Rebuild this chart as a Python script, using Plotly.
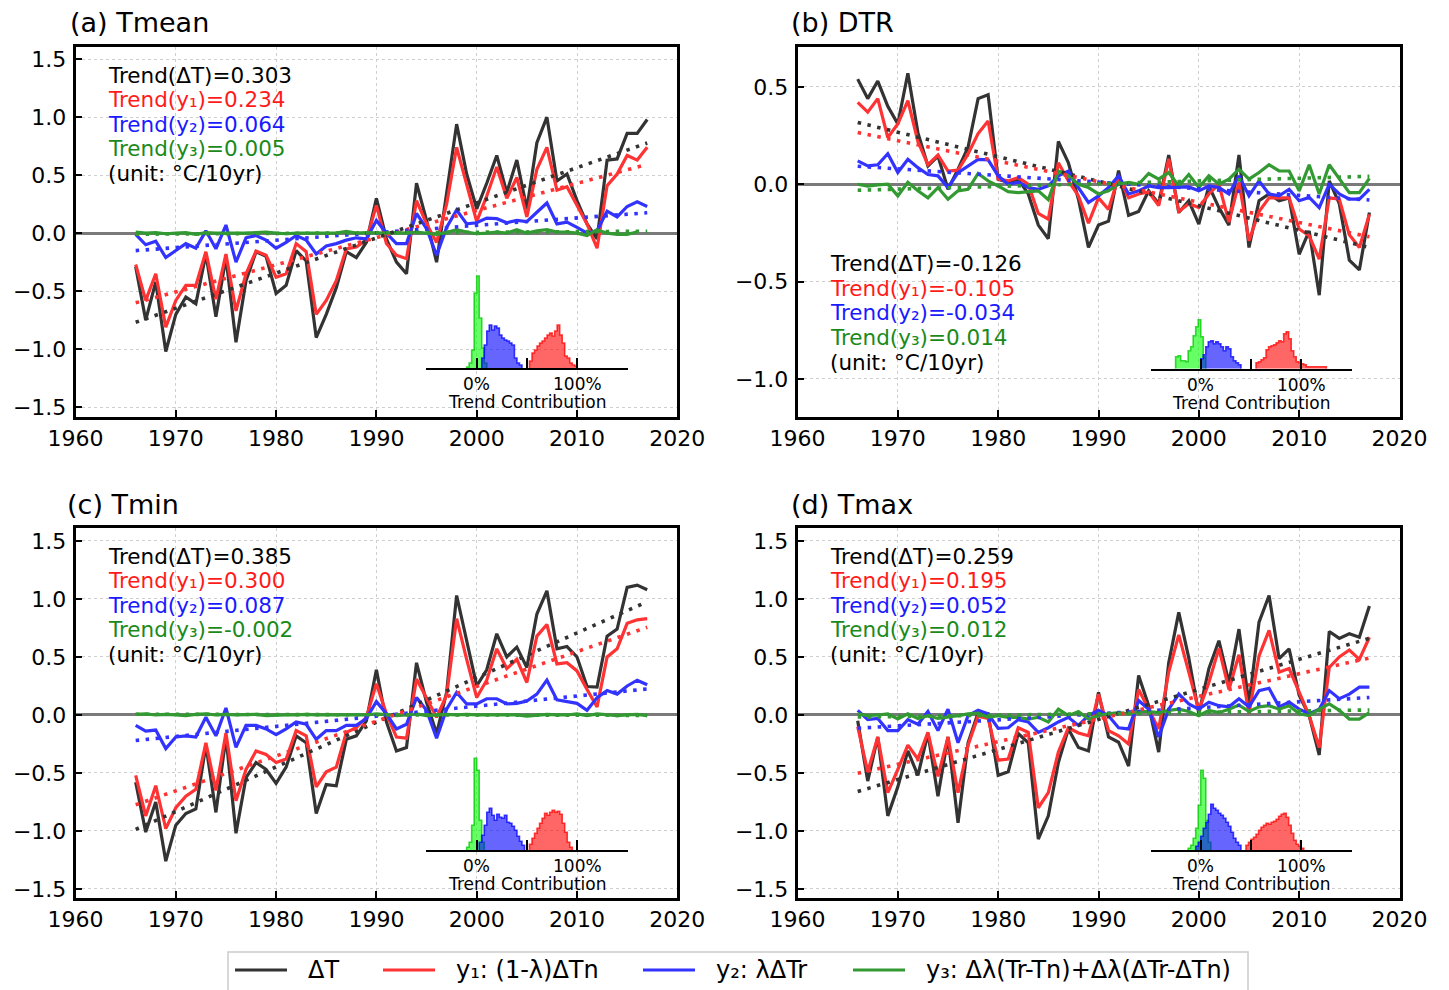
import numpy as np
import plotly.graph_objects as go

W, H = 1449, 990
years = np.arange(1966, 2018)

# ---------------- (a) Tmean ----------------
tmean_dT = [-0.29, -0.75, -0.42, -1.02, -0.70, -0.55, -0.61, -0.18, -0.72, -0.21,
            -0.94, -0.41, -0.16, -0.20, -0.52, -0.45, -0.15, -0.24, -0.90, -0.70,
            -0.47, -0.16, -0.21, -0.08, 0.30,
            -0.05, -0.25, -0.35, 0.43, 0.11, -0.25, 0.34, 0.94, 0.51, 0.21,
            0.43, 0.67, 0.35, 0.63, 0.21, 0.78, 1.00, 0.45, 0.51, 0.28,
            0.08, -0.05, 0.63, 0.64, 0.86, 0.86, 0.98]
tmean_y1 = [-0.27, -0.58, -0.35, -0.81, -0.58, -0.45, -0.45, -0.16, -0.57, -0.18,
            -0.67, -0.35, -0.155, -0.19, -0.38, -0.35, -0.09, -0.16, -0.70, -0.58,
            -0.41, -0.135, -0.12, -0.06, 0.24,
            -0.09, -0.19, -0.22, 0.28, 0.08, -0.08, 0.25, 0.74, 0.43, 0.10,
            0.32, 0.57, 0.30, 0.48, 0.14, 0.55, 0.74, 0.37, 0.40, 0.24,
            0.08, -0.13, 0.41, 0.51, 0.67, 0.63, 0.74]
tmean_y2 = [-0.01, -0.10, -0.07, -0.21, -0.15, -0.09, -0.13, 0.02, -0.135, 0.07,
            -0.25, -0.04, -0.02, -0.06, -0.13, -0.08, -0.02, -0.06, -0.18, -0.11,
            -0.09, -0.06, -0.04, -0.05, 0.11,
            0.0, -0.09, -0.09, 0.17, 0.04, -0.19, 0.05, 0.20, 0.08, 0.09,
            0.13, 0.125, 0.09, 0.11, 0.10, 0.18, 0.26, 0.08, 0.095, 0.05,
            0.0, 0.02, 0.19, 0.14, 0.23, 0.27, 0.23]
tmean_y3 = [0.01, 0.0, 0.005, -0.005, 0.0, 0.005, -0.01, 0.005, 0.0, 0.0,
            -0.005, 0.0, 0.005, 0.01, 0.0, -0.005, 0.0, 0.0, 0.005, 0.0,
            0.0, 0.015, 0.0, 0.005, 0.0,
            0.0, 0.005, 0.0, 0.01, 0.0, -0.01, 0.005, 0.03, 0.01, -0.005,
            0.0, 0.01, 0.0, 0.03, 0.0, 0.02, 0.03, 0.01, 0.01, 0.0,
            -0.02, 0.03, 0.0, -0.01, -0.01, 0.01]
tmean_trend = [0.303, 0.234, 0.064, 0.005]

# ---------------- (b) DTR ----------------
dtr_dT = [0.54, 0.44, 0.53, 0.40, 0.31, 0.57, 0.265, 0.094, 0.145, -0.026,
          0.077, 0.19, 0.44, 0.46, 0.026, 0.01, 0.026, -0.05, -0.21, -0.28,
          0.22, 0.11, -0.077, -0.325, -0.21,
          -0.19, 0.07, -0.16, -0.14, -0.034, -0.10, 0.15, -0.145, -0.085, -0.205,
          -0.009, -0.12, -0.21, 0.15, -0.325, -0.085, -0.05, -0.085, -0.07, -0.36,
          -0.24, -0.57, 0.017, -0.10, -0.39, -0.44, -0.145]
dtr_y1 = [0.42, 0.37, 0.44, 0.24, 0.31, 0.43, 0.22, 0.10, 0.15, 0.068,
          0.072, 0.155, 0.26, 0.325, 0.026, 0.017, 0.034, 0.0, -0.15, -0.18,
          0.11, 0.017, -0.06, -0.20, -0.07,
          -0.13, 0.04, -0.07, -0.05, -0.04, -0.11, 0.13, -0.14, -0.10, -0.12,
          -0.05, 0.0, -0.195, 0.01, -0.29, -0.14, -0.07, -0.07, -0.07, -0.23,
          -0.265, -0.385, -0.07, -0.077, -0.26, -0.325, -0.155]
dtr_y2 = [0.12, 0.094, 0.10, 0.157, 0.06, 0.128, 0.085, 0.05, 0.043, -0.017,
          0.06, 0.094, 0.128, 0.125, 0.043, 0.0, 0.01, -0.017, -0.026, -0.009,
          0.043, 0.068, -0.017, -0.094, -0.06,
          -0.017, 0.043, -0.05, -0.034, -0.009, -0.017, -0.017, -0.014, -0.014, -0.034,
          -0.009, -0.017, -0.05, 0.043, -0.06, 0.017, -0.05, -0.06, -0.026, -0.085,
          -0.068, -0.12, 0.0, -0.05, -0.077, -0.077, -0.026]
dtr_y3 = [0.0, -0.01, -0.003, 0.0, -0.06, 0.01, -0.034, -0.07, -0.017, -0.077,
          -0.034, -0.026, 0.055, 0.017, -0.009, -0.038, -0.043, -0.038, -0.034, -0.08,
          0.068, 0.043, 0.0, -0.017, -0.05,
          -0.034, 0.0, 0.009, 0.0, 0.055, 0.026, 0.06, -0.009, 0.05, -0.017,
          0.043, 0.0, 0.026, 0.077, 0.026, 0.06, 0.1, 0.068, 0.068, -0.034,
          0.1, -0.05, 0.1, 0.026, -0.043, -0.043, 0.03]
dtr_trend = [-0.126, -0.105, -0.034, 0.014]

# ---------------- (c) Tmin ----------------
tmin_dT = [-0.58, -1.01, -0.75, -1.26, -0.95, -0.85, -0.81, -0.26, -0.84, -0.19,
           -1.02, -0.54, -0.41, -0.47, -0.59, -0.45, -0.18, -0.24, -0.85, -0.60,
           -0.61, -0.21, -0.18, -0.05, 0.39,
           -0.06, -0.31, -0.28, 0.45, 0.11, -0.16, 0.195, 1.03, 0.63, 0.25,
           0.39, 0.70, 0.50, 0.585, 0.41, 0.87, 1.07, 0.57, 0.59, 0.50,
           0.245, 0.24, 0.68, 0.74, 1.10, 1.12, 1.08]
tmin_y1 = [-0.52, -0.87, -0.61, -0.98, -0.80, -0.70, -0.64, -0.24, -0.65, -0.155,
           -0.74, -0.47, -0.31, -0.34, -0.41, -0.38, -0.135, -0.18, -0.62, -0.49,
           -0.45, -0.15, -0.11, -0.02, 0.27,
           0.01, -0.19, -0.20, 0.31, 0.14, -0.02, 0.17, 0.83, 0.48, 0.15,
           0.30, 0.57, 0.40, 0.48, 0.28, 0.68, 0.78, 0.44, 0.45, 0.38,
           0.22, 0.07, 0.50, 0.57, 0.79, 0.82, 0.83]
tmin_y2 = [-0.09, -0.14, -0.13, -0.29, -0.19, -0.18, -0.19, -0.02, -0.18, 0.06,
           -0.28, -0.09, -0.09, -0.12, -0.17, -0.12, -0.06, -0.08, -0.21, -0.135,
           -0.135, -0.09, -0.09, -0.03, 0.115,
           0.01, -0.12, -0.08, 0.15, 0.04, -0.20, 0.05, 0.195, 0.095, 0.095,
           0.14, 0.14, 0.095, 0.10, 0.12, 0.18, 0.30, 0.13, 0.115, 0.10,
           0.04, 0.15, 0.21, 0.18, 0.25, 0.30, 0.26]
tmin_y3 = [0.005, 0.01, 0.0, 0.005, 0.0, -0.005, 0.005, 0.01, 0.0, 0.005,
           0.0, 0.0, 0.005, -0.005, 0.0, 0.0, 0.0, 0.005, 0.0, 0.0,
           0.0, 0.005, 0.0, 0.0, 0.01,
           0.0, -0.005, 0.0, 0.01, -0.005, 0.0, 0.005, 0.0, 0.005, 0.0,
           0.0, 0.005, 0.0, 0.0, -0.01, 0.0, 0.005, 0.0, 0.0, 0.01,
           -0.005, 0.01, 0.0, -0.005, 0.0, 0.005, -0.005]
tmin_trend = [0.385, 0.300, 0.087, -0.002]

# ---------------- (d) Tmax ----------------
tmax_dT = [-0.05, -0.57, -0.19, -0.87, -0.62, -0.31, -0.52, -0.16, -0.70, -0.19,
           -0.93, -0.24, 0.02, 0.01, -0.52, -0.49, -0.16, -0.24, -1.07, -0.87,
           -0.41, -0.12, -0.28, -0.31, 0.195,
           -0.19, -0.235, -0.44, 0.34, 0.08, -0.32, 0.45, 0.885, 0.49, 0.01,
           0.40, 0.64, 0.28, 0.74, 0.095, 0.80, 1.03, 0.485, 0.57, 0.17,
           -0.006, -0.345, 0.72, 0.66, 0.70, 0.67, 0.94]
tmax_y1 = [-0.10, -0.49, -0.19, -0.67, -0.47, -0.26, -0.38, -0.15, -0.53, -0.19,
           -0.67, -0.26, -0.01, -0.03, -0.39, -0.38, -0.11, -0.15, -0.80, -0.67,
           -0.32, -0.11, -0.155, -0.18, 0.18,
           -0.135, -0.18, -0.25, 0.22, 0.05, -0.12, 0.37, 0.69, 0.37, 0.04,
           0.28, 0.575, 0.22, 0.52, 0.01, 0.51, 0.73, 0.37, 0.40, 0.195,
           -0.006, -0.28, 0.41, 0.50, 0.56, 0.48, 0.67]
tmax_y2 = [0.04, -0.04, -0.03, -0.135, -0.135, -0.04, -0.08, 0.03, -0.135, 0.05,
           -0.24, -0.006, 0.04, 0.01, -0.115, -0.11, -0.04, -0.06, -0.15, -0.11,
           -0.06, -0.02, -0.09, -0.006, 0.04,
           -0.006, -0.11, -0.12, 0.125, 0.05, -0.19, 0.05, 0.18, 0.095, 0.05,
           0.11, 0.08, 0.07, 0.14, 0.07, 0.21, 0.23, 0.07, 0.11, 0.05,
           0.01, 0.05, 0.21, 0.14, 0.18, 0.24, 0.24]
tmax_y3 = [0.01, -0.006, 0.0, 0.01, -0.035, 0.01, -0.03, -0.006, -0.03, -0.02,
           -0.006, 0.01, 0.015, -0.02, -0.006, -0.02, -0.02, -0.035, -0.02, -0.06,
           0.05, -0.006, 0.03, -0.035, -0.006,
           0.01, 0.02, 0.01, 0.03, 0.03, 0.02, 0.04, 0.05, 0.03, -0.006,
           0.04, 0.02, 0.05, 0.085, 0.03, 0.07, 0.08, 0.05, 0.08, 0.01,
           -0.006, 0.05, 0.095, 0.04, -0.035, -0.035, 0.02]
tmax_trend = [0.259, 0.195, 0.052, 0.012]

# ---------------- trend-contribution histograms (% bins, counts) ----------------
HIST_BIN = 2.5
tmean_h1_start, tmean_h1 = 52.5, [7, 15, 18, 22, 25, 27, 30, 33, 35, 32, 37, 43, 33, 25, 12, 10, 5, 3, 2]
tmean_h2_start, tmean_h2 = 5.0, [10, 23, 37, 43, 38, 42, 40, 33, 30, 28, 27, 25, 23, 10, 5, 3]
tmean_h3_start, tmean_h3 = -10.0, [1, 5, 18, 75, 92, 50, 20, 5]

dtr_h1_start, dtr_h1 = 55.0, [6, 7, 9, 11, 19, 22, 23, 24, 26, 28, 27, 35, 37, 30, 18, 12, 7, 6, 5, 4,
                              2, 2, 2, 2, 2, 2, 2, 2]
dtr_h2_start, dtr_h2 = 0.0, [10, 14, 22, 27, 28, 25, 27, 25, 22, 18, 22, 20, 12, 8, 6, 4]
dtr_h3_start, dtr_h3 = -25.0, [12, 13, 8, 8, 7, 18, 22, 33, 42, 49, 32, 12]

tmin_h1_start, tmin_h1 = 52.5, [6, 12, 17, 22, 27, 32, 37, 35, 38, 40, 38, 39, 36, 27, 18, 8, 3]
tmin_h2_start, tmin_h2 = 2.5, [8, 15, 25, 38, 42, 35, 30, 36, 33, 32, 35, 28, 27, 24, 20, 14, 9, 5]
tmin_h3_start, tmin_h3 = -10.0, [3, 8, 25, 92, 80, 30, 8]

tmax_h1_start, tmax_h1 = 45.0, [5, 8, 11, 13, 16, 20, 23, 25, 27, 26, 28, 29, 31, 34, 36, 37, 33, 25, 17,
                                10, 6, 4, 2]
tmax_h2_start, tmax_h2 = -5.0, [4, 8, 14, 22, 28, 36, 46, 42, 40, 37, 35, 32, 28, 24, 18, 12, 8, 5]
tmax_h3_start, tmax_h3 = -12.5, [2, 5, 12, 22, 45, 80, 72, 30, 8]

SERIES_NAMES = ["ΔT", "y₁: (1-λ)ΔTn", "y₂: λΔTr", "y₃: Δλ(Tr-Tn)+Δλ(ΔTr-ΔTn)"]
TREND_LABELS = ["Trend(ΔT)=", "Trend(y₁)=", "Trend(y₂)=", "Trend(y₃)="]
LINE_COLORS = ["#333333", "#ff3333", "#3333ff", "#339933"]
TEXT_COLORS = ["#000000", "#ff1a1a", "#1a1aff", "#1a8a1a"]
HIST_FILL = ["rgba(255,0,0,0.6)", "rgba(0,0,255,0.6)", "rgba(0,255,0,0.6)"]
HIST_EDGE = ["rgba(255,0,0,0.75)", "rgba(0,0,255,0.75)", "rgba(0,200,0,0.75)"]
FONT = "DejaVu Sans"


def fx(x):
    return x / W


def fy(y):
    return 1 - y / H


panels = [
    dict(title="(a) Tmean", series=[tmean_dT, tmean_y1, tmean_y2, tmean_y3], trend=tmean_trend,
         box=(75.5, 47, 677.3, 417), yr=[-1.585, 1.605], title_xy=(68, 22), text_xy=(106, 75),
         inset=(426.4, 627.6, 368),
         hist=[(tmean_h1_start, tmean_h1), (tmean_h2_start, tmean_h2), (tmean_h3_start, tmean_h3)]),
    dict(title="(b) DTR", series=[dtr_dT, dtr_y1, dtr_y2, dtr_y3], trend=dtr_trend,
         box=(797.5, 47, 1399.5, 417), yr=[-1.196, 0.705], title_xy=(789, 22), text_xy=(828, 264),
         inset=(1150.5, 1351.5, 368.7),
         hist=[(dtr_h1_start, dtr_h1), (dtr_h2_start, dtr_h2), (dtr_h3_start, dtr_h3)]),
    dict(title="(c) Tmin", series=[tmin_dT, tmin_y1, tmin_y2, tmin_y3], trend=tmin_trend,
         box=(75.5, 528, 677.3, 898), yr=[-1.578, 1.612], title_xy=(65, 505), text_xy=(106, 556),
         inset=(426.4, 627.6, 850.3),
         hist=[(tmin_h1_start, tmin_h1), (tmin_h2_start, tmin_h2), (tmin_h3_start, tmin_h3)]),
    dict(title="(d) Tmax", series=[tmax_dT, tmax_y1, tmax_y2, tmax_y3], trend=tmax_trend,
         box=(797.5, 528, 1399.5, 898), yr=[-1.578, 1.612], title_xy=(789, 505), text_xy=(828, 556),
         inset=(1150.5, 1351.5, 850.3),
         hist=[(tmax_h1_start, tmax_h1), (tmax_h2_start, tmax_h2), (tmax_h3_start, tmax_h3)]),
]

fig = go.Figure()
annotations = []
shapes = []
layout_axes = {}

for i, p in enumerate(panels):
    n = i + 1
    xa = "x" if n == 1 else f"x{n}"
    ya = "y" if n == 1 else f"y{n}"
    x0, y0, x1, y1 = p["box"]
    layout_axes["xaxis" if n == 1 else f"xaxis{n}"] = dict(
        domain=[fx(x0), fx(x1)], range=[1960, 2020], anchor=ya, dtick=10, tick0=1960,
        ticks="inside", ticklen=7, tickwidth=2.2, tickcolor="black",
        showline=True, mirror=True, linecolor="black", linewidth=2.6,
        showgrid=True, gridcolor="#cfcfcf", griddash="dot", gridwidth=1.2,
        zeroline=False, tickfont=dict(family=FONT, size=22, color="black"),
        ticklabelstandoff=0, automargin=False)
    layout_axes["yaxis" if n == 1 else f"yaxis{n}"] = dict(
        domain=[fy(y1), fy(y0)], range=p["yr"], anchor=xa, dtick=0.5, tick0=0,
        tickformat=".1f", ticks="inside", ticklen=7, tickwidth=2.2, tickcolor="black",
        showline=True, mirror=True, linecolor="black", linewidth=2.6,
        showgrid=True, gridcolor="#cfcfcf", griddash="dot", gridwidth=1.2,
        zeroline=True, zerolinecolor="#7a7a7a", zerolinewidth=2.6,
        tickfont=dict(family=FONT, size=22, color="black"), ticklabelstandoff=2,
        automargin=False)

    # time series
    for k in range(4):
        fig.add_trace(go.Scatter(
            x=years, y=p["series"][k], mode="lines", xaxis=xa, yaxis=ya,
            line=dict(color=LINE_COLORS[k], width=3.2),
            name=SERIES_NAMES[k], showlegend=False))
    # linear trend lines (slope = stated trend per decade, through data mean)
    for k in range(4):
        s = np.asarray(p["series"][k], dtype=float)
        tline = s.mean() + p["trend"][k] / 10.0 * (years - years.mean())
        fig.add_trace(go.Scatter(
            x=years, y=tline, mode="lines", xaxis=xa, yaxis=ya,
            line=dict(color=LINE_COLORS[k], width=3.6, dash="3.5px,6.5px"),
            showlegend=False, hoverinfo="skip"))

    # inset histogram axes
    m = n + 4
    ix0, ix1, ibase = p["inset"]
    layout_axes[f"xaxis{m}"] = dict(
        domain=[fx(ix0), fx(ix1)], range=[-50, 150], anchor=f"y{m}",
        tickvals=[0, 50, 100], ticks="inside", ticklen=10, showticklabels=False,
        tickwidth=2.2, tickcolor="black", showline=True, linecolor="black", linewidth=2.2,
        showgrid=False, zeroline=False, automargin=False)
    layout_axes[f"yaxis{m}"] = dict(domain=[fy(ibase), fy(ibase - 100)], range=[0, 100],
                                    anchor=f"x{m}", visible=False, automargin=False)
    order = [2, 1, 0]  # y3 (green), y2 (blue), y1 (red)
    for k in order:
        start, counts = p["hist"][k]
        edges = start + HIST_BIN * np.arange(len(counts) + 1)
        hx = np.concatenate([[edges[0]], edges])
        hy = np.concatenate([[0], counts, [0]])
        fig.add_trace(go.Scatter(
            x=hx, y=hy, mode="lines", line=dict(shape="hv", color=HIST_EDGE[k], width=1.6),
            fill="tozeroy", fillcolor=HIST_FILL[k], xaxis=f"x{m}", yaxis=f"y{m}",
            showlegend=False, hoverinfo="skip"))
    # inset labels
    for val, lab in [(0, "0%"), (100, "100%")]:
        annotations.append(dict(text=lab, x=val, xref=f"x{m}", y=fy(ibase + 16), yref="paper",
                                xanchor="center", yanchor="middle", showarrow=False,
                                font=dict(family=FONT, size=17, color="black")))
    annotations.append(dict(text="Trend Contribution", x=50, xref=f"x{m}", y=fy(ibase + 34),
                            yref="paper", xanchor="center", yanchor="middle", showarrow=False,
                            font=dict(family=FONT, size=17, color="black")))

    # panel title
    tx, ty = p["title_xy"]
    annotations.append(dict(text=p["title"], x=fx(tx), y=fy(ty), xref="paper", yref="paper",
                            xanchor="left", yanchor="middle", showarrow=False,
                            font=dict(family=FONT, size=27, color="black")))
    # trend text block
    bx, by = p["text_xy"]
    lines = [f"{TREND_LABELS[k]}{p['trend'][k]:.3f}" for k in range(4)] + ["(unit: °C/10yr)"]
    colors = TEXT_COLORS + ["#000000"]
    for j, (t, c) in enumerate(zip(lines, colors)):
        annotations.append(dict(text=t, x=fx(bx), y=fy(by + 24.5 * j), xref="paper", yref="paper",
                                xanchor="left", yanchor="middle", showarrow=False,
                                font=dict(family=FONT, size=21.5, color=c)))

# ---------------- legend (drawn as shapes + text) ----------------
LEG_LINE_X = [235, 383, 643, 853]
LEG_Y = 970
shapes.append(dict(type="rect", xref="paper", yref="paper", x0=fx(228), x1=fx(1248),
                   y0=fy(1002), y1=fy(952), line=dict(color="#cccccc", width=1.5),
                   fillcolor="white", layer="below"))
for k in range(4):
    lx = LEG_LINE_X[k]
    shapes.append(dict(type="line", xref="paper", yref="paper", x0=fx(lx), x1=fx(lx + 52),
                       y0=fy(LEG_Y), y1=fy(LEG_Y), line=dict(color=LINE_COLORS[k], width=3.2)))
    annotations.append(dict(text=SERIES_NAMES[k], x=fx(lx + 71), y=fy(LEG_Y), xref="paper",
                            yref="paper", xanchor="left", yanchor="middle", showarrow=False,
                            font=dict(family=FONT, size=24, color="black")))

fig.update_layout(
    width=W, height=H, autosize=False,
    margin=dict(l=0, r=0, t=0, b=0, autoexpand=False),
    paper_bgcolor="white", plot_bgcolor="rgba(0,0,0,0)",
    font=dict(family=FONT, size=20, color="black"),
    annotations=annotations, shapes=shapes,
    showlegend=False,
    **layout_axes,
)

fig.write_html("out.html", config={"displayModeBar": False},
               post_script="document.body.style.margin='0';document.body.style.overflow='hidden';")
